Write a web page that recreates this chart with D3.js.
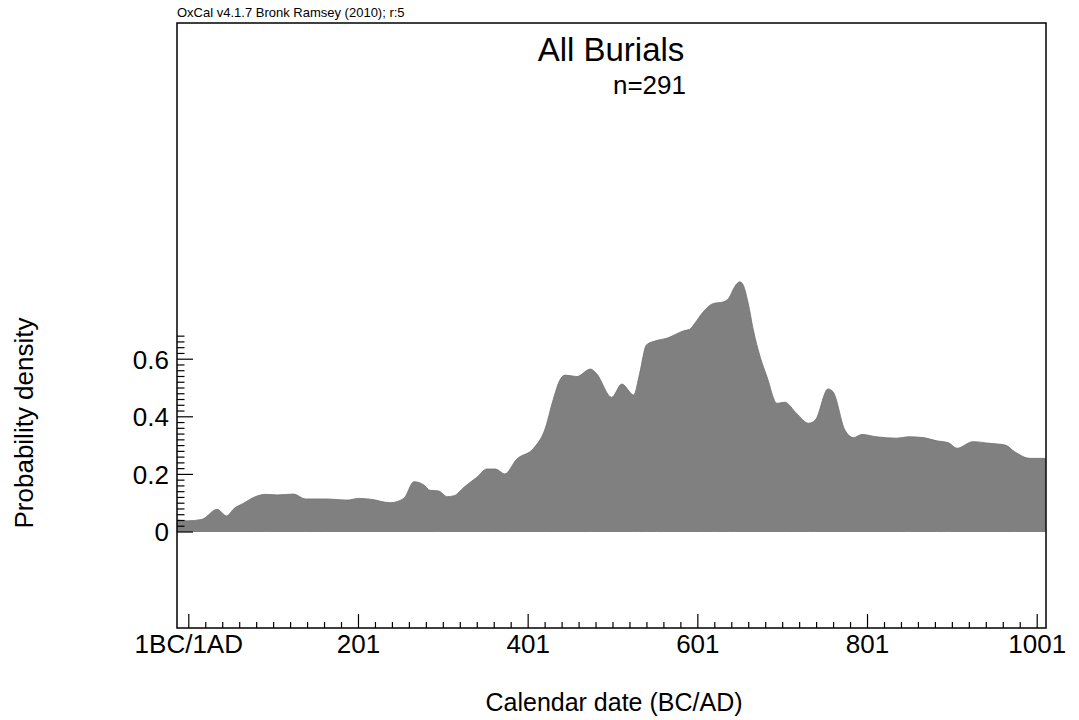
<!DOCTYPE html>
<meta charset='utf-8'>
<style>

body { margin: 0; background: white; }
svg text { font-family: 'Liberation Sans', Arial, sans-serif; fill: black; }
.frame { fill: none; stroke: black; stroke-width: 1.5px; }
.tick line { stroke: black; stroke-width: 1.2px; }
.area { fill: #808080; stroke: #707070; stroke-width: 0.8px; }

</style>
<body>
<script src='https://cdn.jsdelivr.net/npm/d3@7/dist/d3.min.js'></script>
<script>
'use strict'

// Data

let years = [
	-12, 0, 17, 35, 46, 55, 66, 80, 92, 106, 125, 139, 165, 188, 202, 216,
	239, 255, 267, 279, 286, 296, 306, 314, 326, 341, 353, 363, 374, 388, 408, 421,
	431, 439, 445, 459, 475, 482, 500, 512, 526, 533, 541, 553, 565, 585, 592, 598,
	608, 620, 630, 638, 645, 651, 655, 661, 667, 675, 683, 695, 704, 718, 732, 740,
	755, 761, 775, 785, 795, 812, 836, 850, 867, 883, 897, 907, 926, 946, 964, 975,
	993, 1011 ]
let density = [
	0.040, 0.037, 0.042, 0.077, 0.054, 0.080, 0.098, 0.121, 0.129, 0.127, 0.130, 0.113, 0.113, 0.109, 0.115, 0.112,
	0.100, 0.115, 0.173, 0.161, 0.143, 0.141, 0.121, 0.124, 0.154, 0.188, 0.217, 0.217, 0.200, 0.251, 0.289, 0.352,
	0.457, 0.526, 0.543, 0.538, 0.564, 0.549, 0.466, 0.512, 0.474, 0.549, 0.648, 0.663, 0.671, 0.697, 0.702, 0.723,
	0.763, 0.792, 0.796, 0.810, 0.850, 0.867, 0.856, 0.792, 0.700, 0.607, 0.538, 0.445, 0.449, 0.410, 0.376, 0.387,
	0.495, 0.485, 0.352, 0.326, 0.337, 0.329, 0.324, 0.329, 0.326, 0.315, 0.308, 0.289, 0.312, 0.306, 0.300, 0.277,
	0.254, 0.254 ]

let xMajor = [1, 201, 401, 601, 801, 1001],
	xLabels = ['1BC/1AD', '201', '401', '601', '801', '1001'],
	yMajor = [0, 0.2, 0.4, 0.6],
	yLabels = ['0', '0.2', '0.4', '0.6']

let data = years.map((d, i) => ({year: d, p: density[i]}))


// Frame and scales

let W = 1079, H = 720,
	frame = {left: 177, right: 1046, top: 23, bottom: 628},
	x = d3.scaleLinear().domain([1, 1001]).range([188.3, 1036.7]),
	y = d3.scaleLinear().domain([0, 1]).range([531.5, 243.5])

let svg = d3.select('body').append('svg')
	.attr('width', W).attr('height', H)

svg.append('text')
	.attr('x', frame.left).attr('y', 17)
	.style('font-size', '13px')
	.text('OxCal v4.1.7 Bronk Ramsey (2010); r:5')

svg.append('defs').append('clipPath').attr('id', 'clip')
	.append('rect')
		.attr('x', frame.left).attr('y', frame.top)
		.attr('width', frame.right - frame.left).attr('height', frame.bottom - frame.top)

let area = d3.area()
	.x(d => x(d.year)).y0(y(0)).y1(d => y(d.p))
	.curve(d3.curveMonotoneX)

svg.append('path').datum(data)
	.attr('class', 'area').attr('clip-path', 'url(#clip)')
	.attr('d', area)


// Axes (ticks point inward, minor ticks every 20 years / 0.02)

let xMinor = d3.range(1, 1002, 20).filter(v => !xMajor.includes(v)),
	yMinor = d3.range(0, 0.69, 0.02).map(v => +v.toFixed(2)).filter(v => !yMajor.includes(v))

svg.append('g').attr('transform', `translate(0,${frame.bottom})`)
	.call(d3.axisTop(x).tickValues(xMinor).tickSize(6).tickFormat(''))
	.call(s => s.select('.domain').remove())
svg.append('g').attr('transform', `translate(0,${frame.bottom})`)
	.call(d3.axisTop(x).tickValues(xMajor).tickSize(14).tickFormat(''))
	.call(s => s.select('.domain').remove())
	.call(s => s.selectAll('.tick').append('text')
		.attr('y', 25).attr('text-anchor', 'middle')
		.style('font-size', '26px')
		.text((d, i) => xLabels[i]))

svg.append('g').attr('transform', `translate(${frame.left},0)`)
	.call(d3.axisRight(y).tickValues(yMinor).tickSize(7.5).tickFormat(''))
	.call(s => s.select('.domain').remove())
svg.append('g').attr('transform', `translate(${frame.left},0)`)
	.call(d3.axisRight(y).tickValues(yMajor).tickSize(16).tickFormat(''))
	.call(s => s.select('.domain').remove())
	.call(s => s.selectAll('.tick').append('text')
		.attr('x', -8).attr('dy', '0.36em').attr('text-anchor', 'end')
		.style('font-size', '26px')
		.text((d, i) => yLabels[i]))

svg.append('rect').attr('class', 'frame')
	.attr('x', frame.left).attr('y', frame.top)
	.attr('width', frame.right - frame.left).attr('height', frame.bottom - frame.top)


// Titles

svg.append('text')
	.attr('x', 611).attr('y', 61).attr('text-anchor', 'middle')
	.style('font-size', '33px')
	.text('All Burials')
svg.append('text')
	.attr('x', 686).attr('y', 94).attr('text-anchor', 'end')
	.style('font-size', '26px')
	.text('n=291')

svg.append('text')
	.attr('x', 614).attr('y', 711).attr('text-anchor', 'middle')
	.style('font-size', '25px')
	.text('Calendar date (BC/AD)')
svg.append('text')
	.attr('transform', 'translate(33,423) rotate(-90)')
	.attr('text-anchor', 'middle')
	.style('font-size', '26px')
	.text('Probability density')

</script>
</body>
